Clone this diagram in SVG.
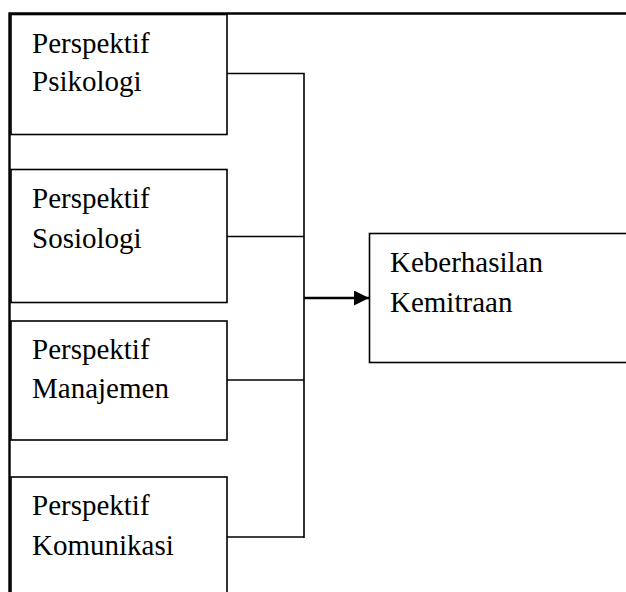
<svg xmlns="http://www.w3.org/2000/svg" width="626" height="592" viewBox="0 0 626 592">
<style>
.box{fill:#fff;stroke:#000;stroke-width:1.6}
.t{font-family:"Liberation Serif","Times New Roman",serif;font-size:29px;fill:#000}
.c{fill:none;stroke:#000;stroke-width:1.6}
.a{fill:none;stroke:#000;stroke-width:2.4}
.frame{fill:none;stroke:#000;stroke-width:2.4}
</style>
<defs>
<marker id="ah" markerWidth="16" markerHeight="16" refX="15" refY="7.5" orient="auto" markerUnits="userSpaceOnUse">
<path d="M0,0 L15,7.5 L0,15 Z" fill="#000"/>
</marker>
</defs>
<rect width="626" height="592" fill="#fff"/>
<path class="frame" d="M9.5,592 V13.5 H626"/>
<g id="n1"><rect class="box" x="11" y="14.5" width="216" height="120"/><text class="t" x="32" y="53">Perspektif</text><text class="t" x="32" y="91">Psikologi</text></g>
<g id="n2"><rect class="box" x="11" y="169.5" width="216" height="133"/><text class="t" x="32" y="208">Perspektif</text><text class="t" x="32" y="248">Sosiologi</text></g>
<g id="n3"><rect class="box" x="11" y="321" width="216" height="119"/><text class="t" x="32" y="359">Perspektif</text><text class="t" x="32" y="398">Manajemen</text></g>
<g id="n4"><rect class="box" x="11" y="477" width="216" height="130"/><text class="t" x="32" y="515">Perspektif</text><text class="t" x="32" y="555">Komunikasi</text></g>
<g id="n5"><rect class="box" x="369.5" y="233.5" width="270" height="129"/><text class="t" x="390" y="272">Keberhasilan</text><text class="t" x="390" y="312">Kemitraan</text></g>
<g id="connectors">
<path class="c" d="M227,73.5 H304 V538"/>
<path class="c" d="M227,236.5 H304"/>
<path class="c" d="M227,380 H304"/>
<path class="c" d="M227,537 H304"/>
<path class="a" d="M304,298 H369" marker-end="url(#ah)"/>
</g>
</svg>
